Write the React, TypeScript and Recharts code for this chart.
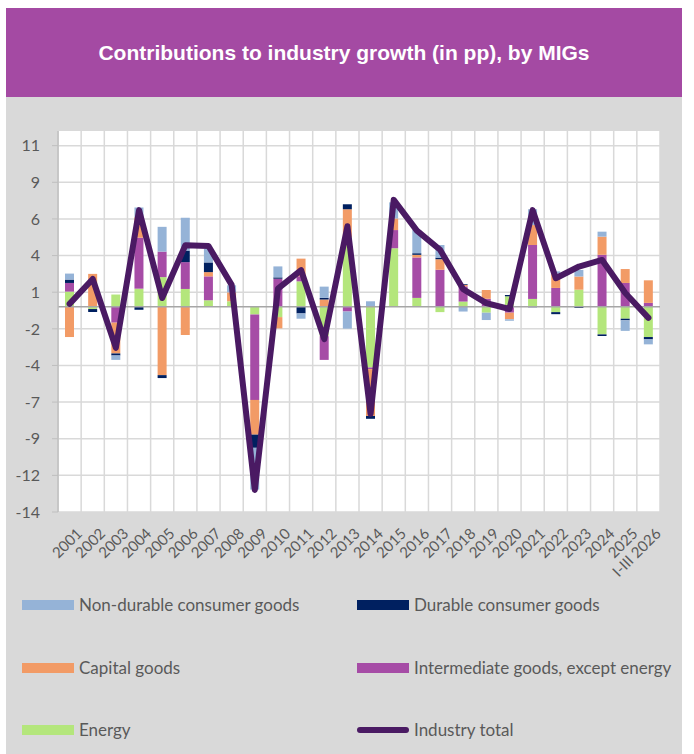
import React from "react";
import {
  ComposedChart,
  Bar,
  Line,
  XAxis,
  YAxis,
  CartesianGrid,
  ReferenceLine,
  Legend,
} from "recharts";

const years = [
  "2001", "2002", "2003", "2004", "2005", "2006", "2007", "2008", "2009",
  "2010", "2011", "2012", "2013", "2014", "2015", "2016", "2017", "2018",
  "2019", "2020", "2021", "2022", "2023", "2024", "2025", "I-III 2026",
];

const energy = [
  1.04, -0.15, 0.84, 1.24, 2.03, 1.22, 0.45, 0.38, -0.52, -0.7, 1.74, -2.0, 4.76,
  -4.14, 4.0, 0.61, -0.36, 0.36, -0.4, 0.72, 0.54, -0.36, 1.17, -1.88, -0.81, -2.06,
];
const intermediate = [
  0.59, 0, -1.08, 3.48, 1.74, 1.83, 1.63, 0, -5.83, 1.92, 0.35, -1.62, -0.32,
  -0.11, 1.24, 2.76, 2.53, 1.04, 0.55, -0.4, 3.68, 1.29, 0, 3.55, 1.63, 0.27,
];
const capital = [
  -2.06, 2.25, -2.1, 1.4, -4.66, -1.92, 0.29, 0.61, -2.37, -0.77, 1.2, 0.5, 1.9,
  -3.2, 0.79, 0.18, 0.72, 0.1, 0.6, -0.45, 1.36, 0.97, 0.9, 1.24, 0.95, 1.54,
];
const durable = [
  0.23, -0.2, -0.14, -0.2, -0.2, 0.79, 0.66, 0, -0.9, 0.09, -0.45, 0.11, 0.34,
  -0.19, 0, 0.11, 0.11, 0.05, 0, 0.09, -0.03, -0.14, -0.08, -0.11, -0.11, -0.16,
];
const nonDurable = [
  0.41, 0, -0.3, 0.66, 1.69, 2.24, 0.93, 0.48, -2.85, 0.75, -0.36, 0.77, -1.17,
  0.38, 1.1, 1.58, 0.86, -0.32, -0.5, -0.1, 1.08, 0.16, 0.45, 0.34, -0.72, -0.34,
];
const total = [
  0.2, 1.9, -2.8, 6.6, 0.6, 4.2, 4.15, 1.5, -12.5, 1.25, 2.5, -2.2, 5.5, -7.3,
  7.3, 5.2, 3.9, 1.2, 0.25, -0.15, 6.6, 1.95, 2.75, 3.2, 0.95, -0.75,
];

const yTicks = [-14, -11.5, -9, -6.5, -4, -1.5, 1, 3.5, 6, 8.5, 11];

const data = years.map((year, i) => ({
  year,
  energy: energy[i],
  intermediate: intermediate[i],
  capital: capital[i],
  durable: durable[i],
  nonDurable: nonDurable[i],
  total: total[i],
}));

const COLORS = {
  nonDurable: "#95B3D7",
  durable: "#002060",
  capital: "#F29B66",
  intermediate: "#A64CA6",
  energy: "#B4E67C",
  total: "#4A1A63",
};

const legendItems = [
  { label: "Non-durable consumer goods", color: COLORS.nonDurable, type: "bar" },
  { label: "Durable consumer goods", color: COLORS.durable, type: "bar" },
  { label: "Capital goods", color: COLORS.capital, type: "bar" },
  { label: "Intermediate goods, except energy", color: COLORS.intermediate, type: "bar" },
  { label: "Energy", color: COLORS.energy, type: "bar" },
  { label: "Industry total", color: COLORS.total, type: "line" },
];

const FONT = "Lato, 'Open Sans', sans-serif";

// axis labels are rounded half away from zero, like the source chart
const fmtTick = (v: number) => String(Math.sign(v) * Math.round(Math.abs(v)));

const YearTick = (props: any) => {
  const { x, y, payload } = props;
  const px = x + 5;
  const py = y + 6;
  return (
    <text
      x={px}
      y={py}
      transform={`rotate(-45 ${px} ${py})`}
      textAnchor="end"
      dominantBaseline="hanging"
      fill="#595959"
      fontSize={15}
      fontFamily={FONT}
    >
      {payload.value}
    </text>
  );
};

const LegendBox = () => {
  const rows = [23, 86, 148];
  return (
    <div style={{ position: "relative", width: 676, height: 172, fontFamily: FONT }}>
      {legendItems.map((item, i) => {
        const col = i % 2;
        const row = Math.floor(i / 2);
        const left = col === 0 ? 16 : 351;
        const top = rows[row];
        return (
          <div key={item.label}>
            <div
              style={{
                position: "absolute",
                left,
                top: top - (item.type === "line" ? 3 : 5),
                width: 52,
                height: item.type === "line" ? 6 : 10,
                background: item.color,
                borderRadius: item.type === "line" ? 3 : 0,
              }}
            />
            <div
              style={{
                position: "absolute",
                left: left + 57,
                top: top - 11,
                lineHeight: "22px",
                fontSize: 17,
                color: "#595959",
                whiteSpace: "nowrap",
              }}
            >
              {item.label}
            </div>
          </div>
        );
      })}
    </div>
  );
};

export default function App() {
  return (
    <div style={{ position: "relative", width: 694, height: 754 }}>
      <style>{"body{margin:0}"}</style>
      <div
        style={{
          position: "absolute",
          left: 6,
          top: 8,
          width: 676,
          height: 89,
          background: "#A44AA3",
          color: "#fff",
          fontFamily: "'Liberation Sans', Arial, sans-serif",
          fontWeight: "bold",
          fontSize: 21,
          display: "flex",
          alignItems: "center",
          justifyContent: "center",
        }}
      >
        Contributions to industry growth (in pp), by MIGs
      </div>
      <div
        style={{
          position: "absolute",
          left: 6,
          top: 97,
          width: 676,
          height: 657,
          background: "#D9D9D9",
        }}
      >
        <ComposedChart
          width={676}
          height={485}
          data={data}
          stackOffset="sign"
          margin={{ top: 34, right: 22, left: 0, bottom: 0 }}
        >
          <CartesianGrid
            fill="#FFFFFF"
            stroke="#D9D9D9"
            strokeWidth={1.5}
            horizontalValues={yTicks}
            verticalCoordinatesGenerator={({ offset }: any) =>
              years.map((_, i) => offset.left + (i * offset.width) / years.length).concat([offset.left + offset.width])
            }
          />
          <XAxis
            dataKey="year"
            interval={0}
            height={70}
            axisLine={false}
            tickLine={false}
            tick={<YearTick />}
          />
          <YAxis
            type="number"
            domain={[-14, 12]}
            ticks={yTicks}
            tickFormatter={fmtTick}
            width={52}
            tickSize={6}
            tickMargin={12}
            axisLine={{ stroke: "#BFBFBF", strokeWidth: 1.5 }}
            tickLine={{ stroke: "#BFBFBF" }}
            tick={{ fill: "#595959", fontSize: 16, fontFamily: FONT }}
            allowDataOverflow
          />
          <ReferenceLine y={0} stroke="#A6A6A6" strokeWidth={1.5} />
          <Bar dataKey="energy" stackId="a" fill={COLORS.energy} barSize={9} isAnimationActive={false} />
          <Bar dataKey="intermediate" stackId="a" fill={COLORS.intermediate} barSize={9} isAnimationActive={false} />
          <Bar dataKey="capital" stackId="a" fill={COLORS.capital} barSize={9} isAnimationActive={false} />
          <Bar dataKey="durable" stackId="a" fill={COLORS.durable} barSize={9} isAnimationActive={false} />
          <Bar dataKey="nonDurable" stackId="a" fill={COLORS.nonDurable} barSize={9} isAnimationActive={false} />
          <Line
            dataKey="total"
            type="linear"
            stroke={COLORS.total}
            strokeWidth={6}
            strokeLinejoin="round"
            strokeLinecap="round"
            dot={false}
            activeDot={false}
            isAnimationActive={false}
          />
          <Legend
            layout="vertical"
            align="center"
            verticalAlign="middle"
            wrapperStyle={{ top: 485, left: 0, width: 676, height: 172 }}
            content={<LegendBox />}
          />
        </ComposedChart>
      </div>
    </div>
  );
}
